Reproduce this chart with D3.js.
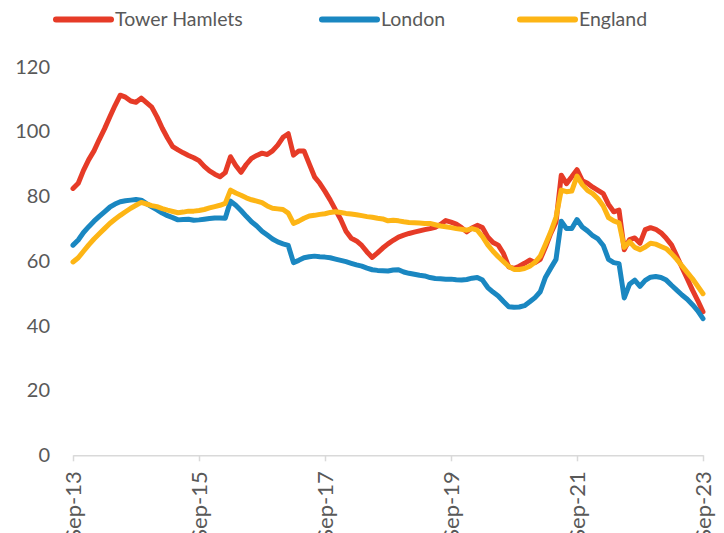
<!DOCTYPE html>
<html>
<head>
<meta charset="utf-8">
<script src="https://cdn.jsdelivr.net/npm/d3@7"></script>
<style>
  body { margin: 0; background: #fff; }
  svg text { font-family: Lato, "Open Sans", sans-serif; fill: #595959; }
</style>
</head>
<body>
<div id="chart"></div>
<script>
var width = 724,
    height = 533;

// Monthly index values, Sep-13 (0) .. Sep-23 (120)
var towerHamlets = [
  82.4, 84, 88, 91.3, 94, 97.5, 100.8, 104.5, 108, 111.2,
  110.6, 109.4, 109, 110.3, 108.9, 107.5, 104.5, 101, 98, 95.3,
  94.3, 93.4, 92.6, 91.9, 91, 89.2, 87.8, 86.8, 86, 87.3,
  92.2, 89.5, 87.4, 89.8, 91.7, 92.6, 93.3, 92.9, 94, 95.8,
  98.2, 99.3, 92.7, 94, 94, 90, 86, 84, 81.5, 78.8,
  75.8, 72.8, 69.2, 67, 66.2, 64.8, 62.8, 61.1, 62.5, 64,
  65.3, 66.4, 67.4, 68, 68.5, 68.9, 69.3, 69.7, 70, 70.4,
  71.3, 72.5, 72, 71.4, 70.3, 69, 70.2, 71, 70.3, 67.4,
  65.7, 64.9, 62.3, 58.2, 57.7, 58.4, 59.3, 60.3, 59.5, 60.5,
  64.3, 68.5, 72, 86.5, 83.9, 86, 88.2, 84.8, 84, 82.8,
  81.8, 80.8, 77.5, 75.2, 75.7, 63.5, 66.6, 67.1, 65.5, 69.7,
  70.3, 69.8, 68.7, 67, 65, 61.5, 58, 54.5, 51, 47.8,
  44.3
];

var london = [
  64.9, 66.5, 68.8, 70.6, 72.3, 73.8, 75.2, 76.6, 77.6, 78.3,
  78.6, 78.8, 79, 78.8, 77.7, 76.7, 75.8, 74.8, 74, 73.4,
  72.7, 72.8, 72.9, 72.6, 72.7, 72.9, 73.1, 73.3, 73.3, 73.2,
  78.5, 77.2, 75.6, 73.8, 72.1, 70.8, 69.2, 68, 66.8, 65.9,
  65.3, 64.8, 59.5, 60.2, 61, 61.3, 61.5, 61.3, 61.2, 61,
  60.6, 60.2, 59.8, 59.3, 58.8, 58.4, 57.8, 57.3, 57.1, 57,
  56.9, 57.2, 57.3, 56.6, 56.2, 55.9, 55.6, 55.4, 54.9, 54.6,
  54.5, 54.4, 54.4, 54.2, 54.1, 54.3, 54.7, 54.9, 54.1, 51.8,
  50.4, 49.2, 47.5, 45.9, 45.7, 45.8, 46.2, 47.4, 48.7, 50.5,
  55, 57.8, 60.5, 72.3, 70, 70, 72.8, 70.5, 69.3, 67.8,
  66.8, 64.8, 60.5, 59.5, 59.2, 48.6, 52.8, 54.1, 52.2, 54,
  55, 55.2, 54.9, 54.1, 52.5, 51, 49.5, 48.2, 46.5, 44.6,
  42.2
];

var england = [
  59.7, 61, 63, 65, 66.8, 68.4, 70, 71.6, 72.9, 74.1,
  75.2, 76.3, 77.2, 78.1, 77.6, 77.1, 76.8, 76.2, 75.7, 75.3,
  74.9, 75.1, 75.4, 75.4, 75.6, 75.9, 76.4, 76.8, 77.2, 77.8,
  81.9, 81, 80.3, 79.5, 78.9, 78.5, 78, 77, 76.3, 76.1,
  75.9, 74.8, 71.6, 72.3, 73.2, 73.9, 74.1, 74.4, 74.6, 75,
  75.2, 75, 74.7, 74.5, 74.3, 74, 73.7, 73.5, 73.2, 73,
  72.4, 72.6, 72.4, 72.1, 71.9, 71.8, 71.7, 71.6, 71.6, 71.2,
  70.8, 70.6, 70.3, 70, 69.8, 69.5, 70, 69.5, 67.5, 65,
  63, 61.3, 59.8, 58.3, 57.4, 57.4, 57.7, 58.4, 59.6, 61.5,
  65.2, 69, 73.5, 81.9, 81.4, 81.6, 86.2, 83.6, 81.8, 80.8,
  79.2, 77, 73.4, 72.4, 71.8, 64.2, 66, 64.2, 63.5, 64.3,
  65.5, 65.2, 64.5, 63.8, 62.3, 60.5, 58.5, 56.5, 54.5, 52.2,
  49.9
];

var seriesNames = ["Tower Hamlets", "London", "England"];
var seriesColors = ["#e63b27", "#1a87c1", "#fdb515"];
var xTickMonths = [0, 24, 48, 72, 96, 120];
var xTickLabels = ["Sep-13", "Sep-15", "Sep-17", "Sep-19", "Sep-21", "Sep-23"];
var yTicks = [0, 20, 40, 60, 80, 100, 120];

var svg = d3.select("#chart").append("svg")
    .attr("width", width)
    .attr("height", height);

var x = d3.scaleLinear().domain([0, 120]).range([73, 703]);
var y = d3.scaleLinear().domain([0, 120]).range([455.3, 66.7]);

// x axis: light grey baseline with short ticks, rotated labels
var xAxis = d3.axisBottom(x)
    .tickValues(xTickMonths)
    .tickFormat(function(d, i) { return xTickLabels[i]; })
    .tickSize(6)
    .tickSizeOuter(0);

var gx = svg.append("g")
    .attr("transform", "translate(0," + y(0) + ")")
    .call(xAxis);

gx.select(".domain").attr("stroke", "#d9d9d9").attr("stroke-width", 1.5);
gx.selectAll(".tick line").attr("stroke", "#d9d9d9").attr("stroke-width", 1.5);
gx.selectAll(".tick text")
    .style("font-size", "22px")
    .attr("fill", "#595959")
    .attr("transform", "rotate(-90)")
    .attr("text-anchor", "end")
    .attr("x", -16)
    .attr("y", 0)
    .attr("dy", "0.36em");

// y axis: labels only
var yAxis = d3.axisLeft(y)
    .tickValues(yTicks)
    .tickSize(0)
    .tickPadding(0);

var gy = svg.append("g")
    .attr("transform", "translate(50,0)")
    .call(yAxis);

gy.select(".domain").remove();
gy.selectAll(".tick text")
    .style("font-size", "20px")
    .attr("fill", "#595959");

// lines
var line = d3.line()
    .x(function(d, i) { return x(i); })
    .y(function(d) { return y(d); });

var allSeries = [towerHamlets, london, england];

svg.selectAll(".series")
    .data(allSeries)
    .enter()
    .append("path")
    .attr("class", "series")
    .attr("fill", "none")
    .attr("stroke", function(d, i) { return seriesColors[i]; })
    .attr("stroke-width", 5)
    .attr("stroke-linejoin", "round")
    .attr("stroke-linecap", "round")
    .attr("d", line);

// legend
var legendX = [56, 322, 520];
var legend = svg.selectAll(".legend")
    .data(seriesNames)
    .enter()
    .append("g")
    .attr("class", "legend")
    .attr("transform", function(d, i) { return "translate(" + legendX[i] + ",19.5)"; });

legend.append("line")
    .attr("x1", 0).attr("x2", 55)
    .attr("y1", 0).attr("y2", 0)
    .attr("stroke", function(d, i) { return seriesColors[i]; })
    .attr("stroke-width", 6)
    .attr("stroke-linecap", "round");

legend.append("text")
    .attr("x", 59)
    .attr("y", 0)
    .attr("dy", "0.35em")
    .style("font-size", "19.5px")
    .text(function(d) { return d; });
</script>
</body>
</html>
